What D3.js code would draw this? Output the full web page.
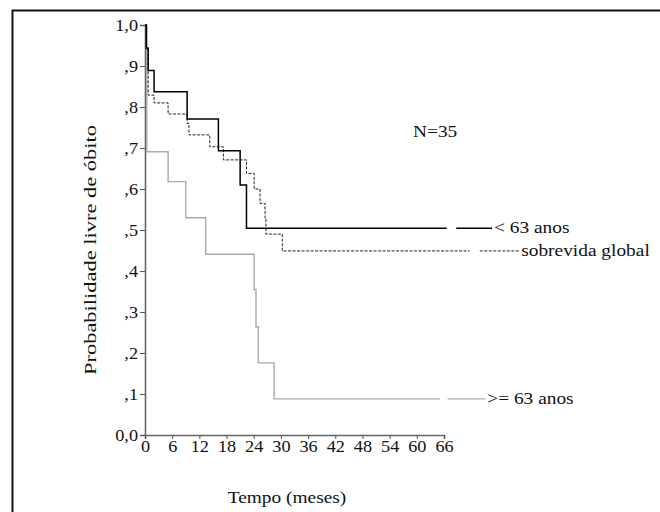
<!DOCTYPE html>
<html>
<head>
<meta charset="utf-8">
<script src="https://cdn.jsdelivr.net/npm/d3@7"></script>
<style>
  body { margin: 0; background: #fff; }
  text { font-family: "Liberation Serif", "DejaVu Serif", serif; fill: #111; }
</style>
</head>
<body>
<script>
// step curves: time (months) where survival drops, and survival after the drop
var youngTimes = [0, 0.3, 0.7, 2.0, 9.3, 16.2, 21.0, 22.4];
var youngSurv  = [1.0, 0.944, 0.889, 0.837, 0.771, 0.693, 0.610, 0.504];
var youngEnd = 66.6;

var globalTimes = [0, 0.3, 0.7, 2.0, 5.1, 9.3, 9.7, 14.3, 17.3, 22.4, 24.1, 25.4, 26.5, 26.7, 30.3];
var globalSurv  = [1.0, 0.94, 0.829, 0.81, 0.783, 0.76, 0.732, 0.703, 0.671, 0.638, 0.60, 0.565, 0.528, 0.49, 0.449];
var globalEnd = 71.7;

var oldTimes = [0, 0.4, 5.1, 9.0, 13.4, 24.1, 24.5, 25.0, 28.5];
var oldSurv  = [1.0, 0.691, 0.618, 0.530, 0.441, 0.355, 0.264, 0.176, 0.088];
var oldEnd = 65.1;

var xTicks = [0, 6, 12, 18, 24, 30, 36, 42, 48, 54, 60, 66];
var yTicks = [0, 0.1, 0.2, 0.3, 0.4, 0.5, 0.6, 0.7, 0.8, 0.9, 1.0];
var yTickLabels = ["0,0", ",1", ",2", ",3", ",4", ",5", ",6", ",7", ",8", ",9", "1,0"];

// curve labels: leader line start/end in months, label text
var labelNames = ["< 63 anos", "sobrevida global", ">= 63 anos"];
var labelFrom = [68.7, 73.9, 66.8];
var labelTo = [76.6, 82.6, 75.1];

var width = 660, height = 512;
var wide = 1.14; // the original face runs wider than Liberation Serif

var svg = d3.select("body").append("svg")
  .attr("width", width)
  .attr("height", height);

// frame (only top and left edges show in the crop)
svg.append("path")
  .attr("d", "M12.5,512V10.5H660")
  .attr("fill", "none")
  .attr("stroke", "#111")
  .attr("stroke-width", 2);

var x = d3.scaleLinear().domain([0, 66]).range([145, 444]);
var y = d3.scaleLinear().domain([0, 1]).range([435, 25]);

var xAxis = svg.append("g")
  .attr("transform", "translate(0," + y(0) + ")")
  .call(d3.axisBottom(x).tickValues(xTicks).tickSize(4).tickPadding(2));
xAxis.selectAll(".tick text")
  .attr("font-size", 16).attr("font-family", null)
  .attr("transform", "scale(" + wide + ",1)");

var yAxis = svg.append("g")
  .attr("transform", "translate(" + x(0) + ",0)")
  .call(d3.axisLeft(y).tickValues(yTicks).tickSize(5).tickPadding(2)
    .tickFormat(function(d, i) { return yTickLabels[i]; }));
yAxis.selectAll(".tick text")
  .attr("font-size", 16).attr("font-family", null)
  .attr("x", -7 / wide)
  .attr("transform", "scale(" + wide + ",1)");

[xAxis, yAxis].forEach(function(a) {
  a.select(".domain").attr("stroke", "#666").attr("stroke-width", 1.6);
  a.selectAll(".tick line").attr("stroke", "#555");
});

function stepData(times, surv, end) {
  var pts = times.map(function(t, i) { return {t: t, s: surv[i]}; });
  pts.push({t: end, s: surv[surv.length - 1]});
  return pts;
}

var line = d3.line()
  .x(function(d) { return x(d.t); })
  .y(function(d) { return y(d.s); })
  .curve(d3.curveStepAfter);

svg.append("path")
  .datum(stepData(oldTimes, oldSurv, oldEnd))
  .attr("d", line)
  .attr("fill", "none")
  .attr("stroke", "#aaa")
  .attr("stroke-width", 1.4);

svg.append("path")
  .datum(stepData(globalTimes, globalSurv, globalEnd))
  .attr("d", line)
  .attr("fill", "none")
  .attr("stroke", "#222")
  .attr("stroke-width", 1)
  .attr("stroke-dasharray", "3,1.5");

svg.append("path")
  .datum(stepData(youngTimes, youngSurv, youngEnd))
  .attr("d", line)
  .attr("fill", "none")
  .attr("stroke", "#000")
  .attr("stroke-width", 1.5);

function addText(px, py, str, anchor) {
  return svg.append("text")
    .attr("transform", "translate(" + px + "," + py + ") scale(" + wide + ",1)")
    .attr("text-anchor", anchor || "start")
    .attr("font-size", 17)
    .text(str);
}

// leader lines and labels
var labelLevel = [youngSurv[youngSurv.length - 1], globalSurv[globalSurv.length - 1], oldSurv[oldSurv.length - 1]];
var labelStroke = ["#000", "#222", "#aaa"];
var labelWidth = [1.5, 1, 1.4];
var labelDash = [null, "3,1.5", null];

labelNames.forEach(function(name, i) {
  svg.append("line")
    .attr("x1", x(labelFrom[i])).attr("x2", x(labelTo[i]))
    .attr("y1", y(labelLevel[i])).attr("y2", y(labelLevel[i]))
    .attr("stroke", labelStroke[i])
    .attr("stroke-width", labelWidth[i])
    .attr("stroke-dasharray", labelDash[i]);
  addText(x(labelTo[i]) + 2, y(labelLevel[i]) + 5, name);
});

addText(413, 137, "N=35");
addText(287, 503, "Tempo (meses)", "middle");

svg.append("text")
  .attr("transform", "translate(96,250) rotate(-90)")
  .attr("text-anchor", "middle")
  .attr("font-size", 16)
  .attr("textLength", 250)
  .attr("lengthAdjust", "spacingAndGlyphs")
  .text("Probabilidade livre de óbito");
</script>
</body>
</html>
